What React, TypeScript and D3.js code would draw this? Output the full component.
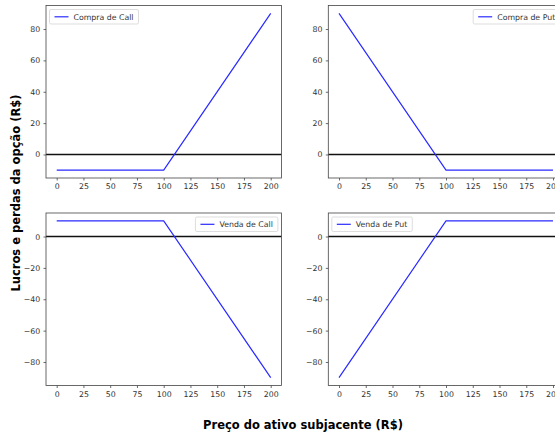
import React, { useRef, useEffect } from "react";
import { select, scaleLinear, line, axisBottom, axisLeft } from "d3";

// preço do ativo no vencimento (strike 100, prêmio 10)
const precos = [0, 100, 200];
const compraCall = [-10, -10, 90];
const compraPut = [90, -10, -10];
const vendaCall = [10, 10, -90];
const vendaPut = [-90, 10, 10];

const xTicks = [0, 25, 50, 75, 100, 125, 150, 175, 200];
const yTicksCompra = [0, 20, 40, 60, 80];
const yTicksVenda = [-80, -60, -40, -20, 0];

const paineis = [
  { nome: "Compra de Call", valores: compraCall, ticks: yTicksCompra, col: 0, row: 0, legenda: "left" },
  { nome: "Compra de Put", valores: compraPut, ticks: yTicksCompra, col: 1, row: 0, legenda: "right" },
  { nome: "Venda de Call", valores: vendaCall, ticks: yTicksVenda, col: 0, row: 1, legenda: "right" },
  { nome: "Venda de Put", valores: vendaPut, ticks: yTicksVenda, col: 1, row: 1, legenda: "left" },
];

const font = "'DejaVu Sans', sans-serif";

export default function App() {
  const svgRef = useRef(null);

  useEffect(() => {
    const svg = select(svgRef.current);
    svg.selectAll("*").remove();

    const width = 555;
    const height = 433;
    const colX = [46, 328.3];
    const rowY = [5.5, 213];
    const w = 235.4;
    const h = 172.5;

    svg.append("rect").attr("width", width).attr("height", height).attr("fill", "#fff");

    paineis.forEach((p) => {
      const g = svg.append("g").attr("transform", `translate(${colX[p.col]},${rowY[p.row]})`);
      const ext = [Math.min(...p.valores), Math.max(...p.valores)];
      const pad = (ext[1] - ext[0]) * 0.05;

      const x = scaleLinear().domain([-10, 210]).range([0, w]);
      const y = scaleLinear().domain([ext[0] - pad, ext[1] + pad]).range([h, 0]);

      const ax = g.append("g")
        .attr("transform", `translate(0,${h})`)
        .call(axisBottom(x).tickValues(xTicks).tickSize(2.5).tickPadding(3.3));
      const ay = g.append("g")
        .call(axisLeft(y).tickValues(p.ticks).tickSize(2.5).tickPadding(3.3));

      [ax, ay].forEach((a) => {
        a.select(".domain").remove();
        a.selectAll("line").attr("stroke", "#444").attr("stroke-width", 0.8);
        a.selectAll("text").attr("fill", "#333").style("font-family", font).style("font-size", "7.8px");
      });

      // linha do zero
      g.append("line")
        .attr("x1", 0).attr("x2", w)
        .attr("y1", y(0)).attr("y2", y(0))
        .attr("stroke", "#111").attr("stroke-width", 1.3);

      const gen = line<number>()
        .x((d, i) => x(precos[i]))
        .y((d) => y(d));

      g.append("path")
        .datum(p.valores)
        .attr("d", gen)
        .attr("fill", "none")
        .attr("stroke", "#2a2aff")
        .attr("stroke-width", 1.2);

      g.append("rect")
        .attr("width", w).attr("height", h)
        .attr("fill", "none").attr("stroke", "#444").attr("stroke-width", 0.8);

      // legenda
      const lg = g.append("g");
      const box = lg.append("rect");
      const txt = lg.append("text")
        .attr("x", 24).attr("y", 7.3)
        .attr("dy", "0.35em")
        .attr("fill", "#333")
        .style("font-family", font).style("font-size", "7.8px")
        .text(p.nome);
      const tw = (txt.node() as SVGTextElement).getComputedTextLength();
      const bw = 24 + tw + 5;
      box.attr("width", bw).attr("height", 14.5).attr("rx", 1.5)
        .attr("fill", "#fff").attr("fill-opacity", 0.8)
        .attr("stroke", "#d4d4d4").attr("stroke-width", 0.8);
      lg.append("line")
        .attr("x1", 5).attr("x2", 19).attr("y1", 7.3).attr("y2", 7.3)
        .attr("stroke", "#2a2aff").attr("stroke-width", 1.2);
      const lx = p.legenda === "left" ? 3.5 : w - 3.5 - bw;
      lg.attr("transform", `translate(${lx},4)`);
    });

    svg.append("text")
      .attr("x", 303).attr("y", 429)
      .attr("text-anchor", "middle")
      .style("font-family", font).style("font-size", "11.5px").style("font-weight", "bold")
      .text("Preço do ativo subjacente (R$)");

    svg.append("text")
      .attr("transform", "translate(20,193) rotate(-90)")
      .attr("text-anchor", "middle")
      .style("font-family", font).style("font-size", "11.5px").style("font-weight", "bold")
      .text("Lucros e perdas da opção (R$)");
  }, []);

  return (
    <svg ref={svgRef} width={555} height={433} style={{ position: "absolute", left: 0, top: 0 }} />
  );
}
